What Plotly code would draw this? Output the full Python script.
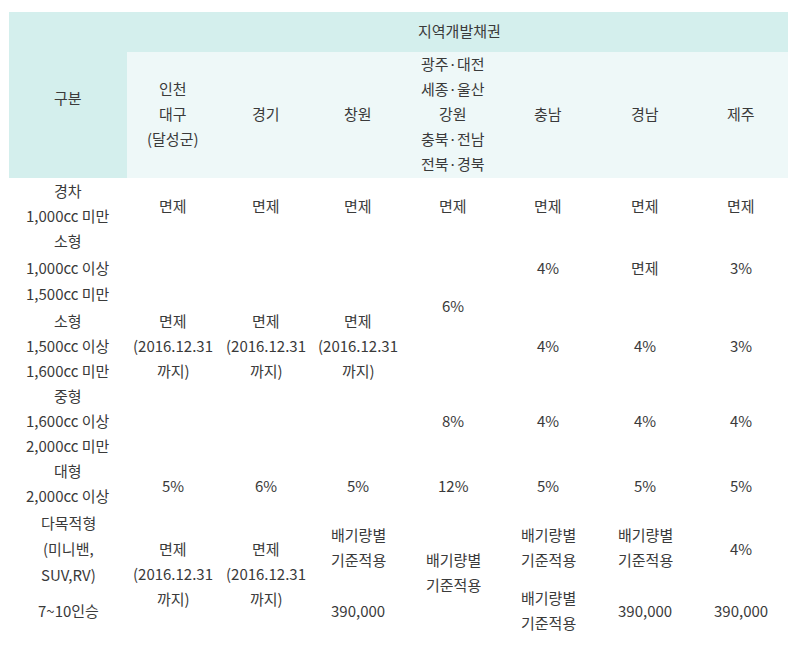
import plotly.graph_objects as go

title = "지역개발채권"
corner = "구분"
regions = ["인천<br>대구<br>(달성군)", "경기", "창원", "광주·대전<br>세종·울산<br>강원<br>충북·전남<br>전북·경북", "충남", "경남", "제주"]
row_labels = ["경차", "1,000cc 미만", "소형", "1,000cc 이상", "1,500cc 미만", "소형", "1,500cc 이상",
              "1,600cc 미만", "중형", "1,600cc 이상", "2,000cc 미만", "대형", "2,000cc 이상",
              "다목적형", "(미니밴,", "SUV,RV)", "7~10인승"]
row_label_y = [190, 215, 240, 267, 293, 320, 345, 370, 395, 420, 445, 470, 495, 522, 548, 574, 610]

col_x = [173, 266, 358, 453, 548, 645, 741]
cell_col = [0,1,2,3,4,5,6,
            4,5,6,
            0,1,2, 3,
            4,5,6,
            3,4,5,6,
            0,1,2,3,4,5,6,
            0,1,2,2,3,4,4,5,5,6,6]
cell_text = ["면제"]*7 + ["4%", "면제", "3%"] + ["면제<br>(2016.12.31<br>까지)"]*3 + ["6%"] + \
            ["4%", "4%", "3%"] + ["8%", "4%", "4%", "4%"] + ["5%", "6%", "5%", "12%", "5%", "5%", "5%"] + \
            ["면제<br>(2016.12.31<br>까지)", "면제<br>(2016.12.31<br>까지)", "배기량별<br>기준적용", "390,000",
             "배기량별<br>기준적용", "배기량별<br>기준적용", "배기량별<br>기준적용", "배기량별<br>기준적용", "390,000",
             "4%", "390,000"]
cell_y = [205]*7 + [267]*3 + [345]*3 + [305] + [345]*3 + [420]*4 + [485]*7 + \
         [573, 573, 547, 610, 572, 547, 610, 547, 610, 548, 610]

LH = 25  # line spacing
font = dict(family="Noto Sans CJK KR", size=15, color="#3a3a3a")

fig = go.Figure()
fig.add_shape(type="rect", x0=9, x1=788, y0=12, y1=178, fillcolor="#d4efed", line_width=0, layer="below")
fig.add_shape(type="rect", x0=127, x1=788, y0=52, y1=178, fillcolor="#eef8f8", line_width=0, layer="below")

def put(x, y, text):
    lines = text.split("<br>")
    n = len(lines)
    for i, ln in enumerate(lines):
        fig.add_annotation(x=x, y=y + (i - (n - 1) / 2) * LH, text=ln, showarrow=False, font=font)

put(459, 30, title)
put(68, 97, corner)
for x, t in zip(col_x, regions):
    put(x, 113, t)
for y, t in zip(row_label_y, row_labels):
    put(68, y, t)
for c, y, t in zip(cell_col, cell_y, cell_text):
    put(col_x[c], y, t)

# browser body margin is 8px, shift the axis ranges to compensate
fig.update_layout(width=800, height=647, margin=dict(l=0, r=0, t=0, b=0),
                  plot_bgcolor="white", paper_bgcolor="white", showlegend=False,
                  xaxis=dict(range=[8, 808], visible=False),
                  yaxis=dict(range=[655, 8], visible=False))
fig.write_html("out.html")
